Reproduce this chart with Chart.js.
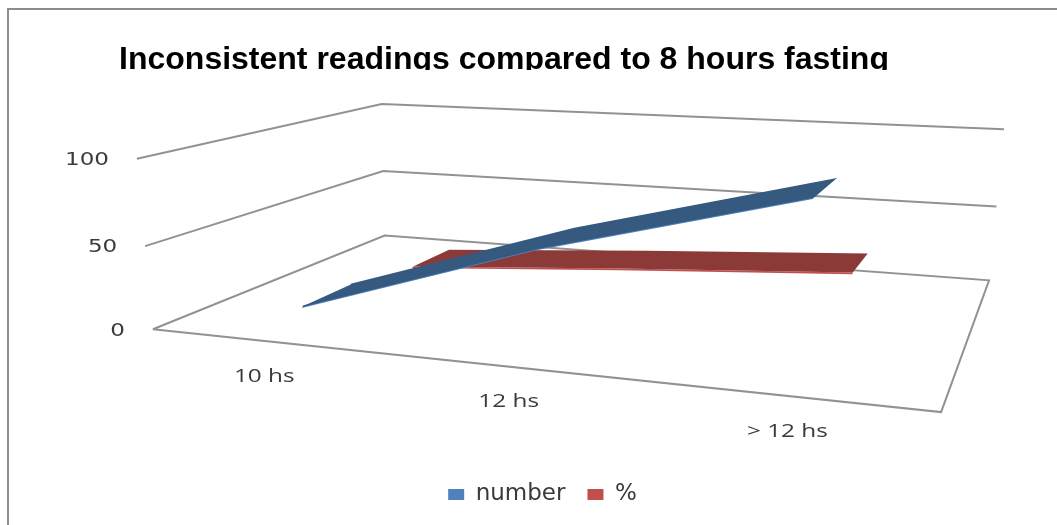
<!DOCTYPE html>
<html>
<head>
<meta charset="utf-8">
<title>Inconsistent readings</title>
<script src="https://cdn.jsdelivr.net/npm/chart.js@4/dist/chart.umd.min.js"></script>
<style>
  html, body { margin: 0; padding: 0; background: #fff; overflow: hidden; }
  canvas { display: block; }
</style>
</head>
<body>
<canvas id="chart" width="1057" height="525"></canvas>
<script>
// Values
const categories = ['10 hs', '12 hs', '> 12 hs'];
const numberValues = [10, 56, 93];
const percentValues = [3, 13, 22];
const yTicks = [0, 50, 100];
const yMax = 100;

const titleText = 'Inconsistent readings compared to 8 hours fasting';

// Perspective of the box: u across, d into the page, v up (0..1)
function project(u, d, v) {
    const w = 1 - 0.1793 * u + 0.3184 * d - 0.049 * v;
    return {
        x: (620.1 * u + 354.6 * d + 153 - 22.7 * v - 9.5 * u * v) / w,
        y: (9.1 * u - 19.2 * d + 329 - 178.7 * v) / w
    };
}

function catU(i) {
    return (i + 0.5) / categories.length;
}

// Flat ribbon for one series, with a thin lighter strip along its front edge
function ribbon(values, d0, d1) {
    const front = values.map((val, i) => project(catU(i), d0, val / yMax));
    const back = values.map((val, i) => project(catU(i), d1, val / yMax));
    return front.concat(back.reverse());
}

function ribbonEdge(values, d0) {
    const upper = values.map((val, i) => project(catU(i), d0, val / yMax));
    const lower = values.map((val, i) => project(catU(i), d0 - 0.005, (val - 0.8) / yMax));
    return upper.concat(lower.reverse());
}

function gridLine(tick) {
    const v = tick / yMax;
    return [project(0, 0, v), project(0, 1, v), project(1, 1, v)];
}

function shape(points, color) {
    return {
        data: points,
        showLine: true,
        fill: 'shape',
        backgroundColor: color,
        borderWidth: 0,
        pointRadius: 0,
        tension: 0
    };
}

function line(points) {
    return {
        data: points,
        showLine: true,
        fill: false,
        borderColor: '#929292',
        borderWidth: 2,
        pointRadius: 0,
        tension: 0
    };
}

const floor = [project(0, 0, 0), project(0, 1, 0), project(1, 1, 0), project(1, 0, 0), project(0, 0, 0)];

// Later datasets are painted first
const datasets = [
    Object.assign(shape(ribbon(numberValues, 0.15, 0.35), '#35597f'), { borderColor: '#35597f', borderWidth: 1.5 }),
    Object.assign(shape(ribbonEdge(numberValues, 0.15), '#4f81bd'), { label: 'number' }),
    shape(ribbon(percentValues, 0.65, 0.85), '#8b3a38'),
    Object.assign(shape(ribbonEdge(percentValues, 0.65), '#c0504d'), { label: '%' }),
    line(floor)
].concat(yTicks.filter(t => t > 0).map(t => line(gridLine(t))));

function stretchedText(ctx, text, x, y, align) {
    ctx.save();
    ctx.translate(x, y);
    ctx.scale(1.28, 1);
    ctx.textAlign = align;
    ctx.textBaseline = 'middle';
    ctx.fillText(text, 0, 0);
    ctx.restore();
}

const decorations = {
    id: 'decorations',
    beforeDraw(chart) {
        const ctx = chart.ctx;
        ctx.save();
        ctx.fillStyle = '#fff';
        ctx.fillRect(0, 0, chart.width, chart.height);
        ctx.strokeStyle = '#8c8c8c';
        ctx.lineWidth = 2;
        ctx.beginPath();
        ctx.moveTo(8, chart.height);
        ctx.lineTo(8, 9);
        ctx.lineTo(chart.width, 9);
        ctx.stroke();
        ctx.restore();
    },
    afterDraw(chart) {
        const ctx = chart.ctx;
        ctx.save();

        // title is cut off just under its baseline in the original
        ctx.save();
        ctx.beginPath();
        ctx.rect(0, 0, chart.width, 70);
        ctx.clip();
        ctx.font = 'bold 32px "Liberation Sans"';
        ctx.fillStyle = '#000';
        ctx.textAlign = 'center';
        ctx.textBaseline = 'alphabetic';
        ctx.fillText(titleText, 504, 69);
        ctx.restore();

        ctx.font = '18px "DejaVu Sans"';
        ctx.fillStyle = '#3a3a3a';
        yTicks.forEach(t => {
            const p = project(0, 0, t / yMax);
            stretchedText(ctx, String(t), p.x - 28, p.y + 2, 'right');
        });

        ctx.font = '19px "Open Sans"';
        categories.forEach((c, i) => {
            const p = project(catU(i), 0, 0);
            stretchedText(ctx, c, p.x, p.y + 35.5, 'center');
        });
        ctx.restore();
    }
};

const chart = new Chart(document.getElementById('chart'), {
    type: 'scatter',
    data: { datasets: datasets },
    plugins: [decorations],
    options: {
        responsive: false,
        animation: false,
        layout: { padding: { left: 28, bottom: 9 } },
        scales: {
            x: { type: 'linear', display: false },
            y: { type: 'linear', display: false, reverse: true }
        },
        plugins: {
            tooltip: { enabled: false },
            legend: {
                position: 'bottom',
                labels: {
                    filter: item => !!item.text,
                    boxWidth: 16,
                    boxHeight: 11,
                    padding: 22,
                    color: '#3a3a3a',
                    font: { family: '"DejaVu Sans"', size: 23 }
                }
            }
        }
    }
});

// Make the scales read in canvas pixels, now that the legend has taken its room
chart.options.scales.x.min = chart.chartArea.left;
chart.options.scales.x.max = chart.chartArea.right;
chart.options.scales.y.min = chart.chartArea.top;
chart.options.scales.y.max = chart.chartArea.bottom;
chart.update('none');
</script>
</body>
</html>
